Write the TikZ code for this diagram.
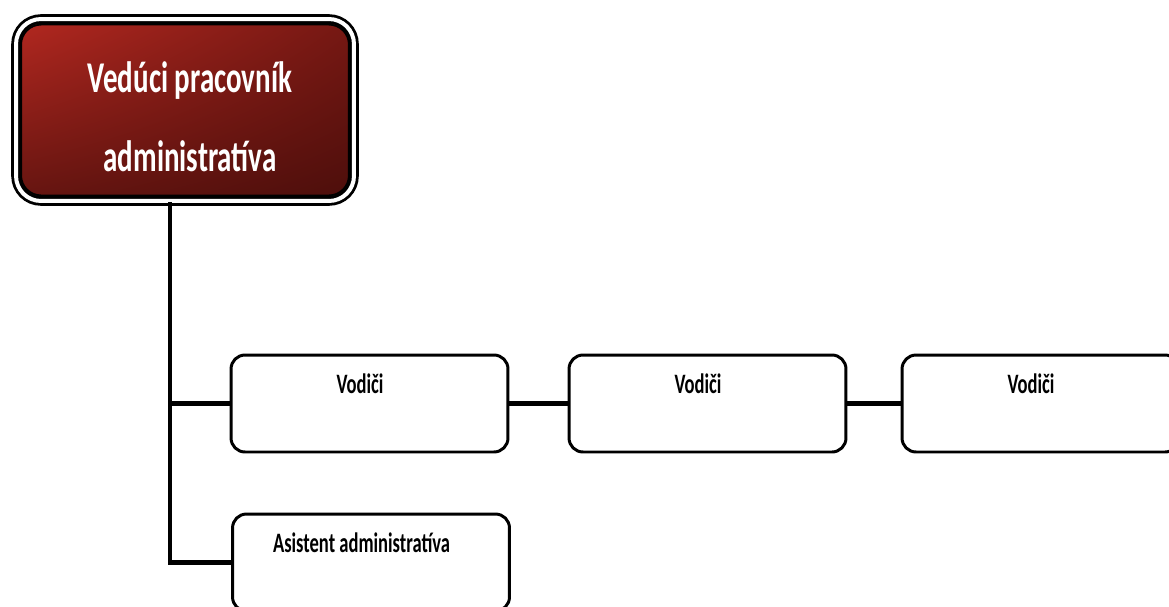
\documentclass[tikz,border=0pt]{standalone}
\usepackage{fontspec}
\newfontfamily\orgfont[FakeStretch=0.66]{Carlito}
\usetikzlibrary{shadings}
\definecolor{headlight}{RGB}{180,40,32}
\definecolor{headmid}{RGB}{118,24,19}
\definecolor{headdark}{RGB}{76,14,11}
\tikzset{
  org head/.style={
    rectangle,rounded corners=0.5cm,minimum width=6.76cm,minimum height=3.64cm,
    upper left=headlight,upper right=headmid,lower left=headmid!85!black,lower right=headdark,
    draw=black,line width=1.6pt,double=white,double distance=0.08cm,inner sep=0pt
  },
  org rim/.style={draw=black,line width=1pt,rounded corners=0.4cm},
  org box/.style={
    rectangle,rounded corners=0.28cm,draw=black,line width=1.7pt,fill=white,
    minimum width=5.54cm,minimum height=1.94cm,inner sep=0pt
  },
  box text/.style={font=\orgfont\bfseries\fontsize{16}{18}\selectfont,inner sep=0pt,
    anchor=north,yshift=-0.4cm,xshift=-0.19cm},
  head text/.style={font=\orgfont\bfseries\fontsize{25}{45}\selectfont,text=white,
    align=center,inner sep=0pt,yshift=-0.13cm,xshift=0.1cm},
  org line/.style={black,line width=2.3pt}
}
\begin{document}
\begin{tikzpicture}[x=0.02cm,y=-0.02cm]
  \useasboundingbox (0,0) rectangle (1169,606);
  \node[org head,label={[head text]center:Vedúci pracovník\\administratíva}] (head) at (185,110) {};
  \draw[org rim] ([shift={(0.13cm,-0.14cm)}]head.north west) rectangle ([shift={(-0.13cm,0.14cm)}]head.south east);
  \node[org box,label={[box text]north:Vodiči}] (vod1) at (369.5,403.5) {};
  \node[org box,label={[box text]north:Vodiči}] (vod2) at (707.5,403.5) {};
  \node[org box,label={[box text]north:Vodiči}] (vod3) at (1040.5,403.5) {};
  \node[org box,label={[box text]north:Asistent administratíva}] (asist) at (371,562.5) {};
  \coordinate (trunk) at (170,565);
  \draw[org line] (head.south -| trunk)--(trunk)
    (trunk |- vod1.west)--(vod1.west)
    (trunk |- asist.west)--(asist.west)
    (vod1.east)--(vod2.west) (vod2.east)--(vod3.west);
\end{tikzpicture}
\end{document}
